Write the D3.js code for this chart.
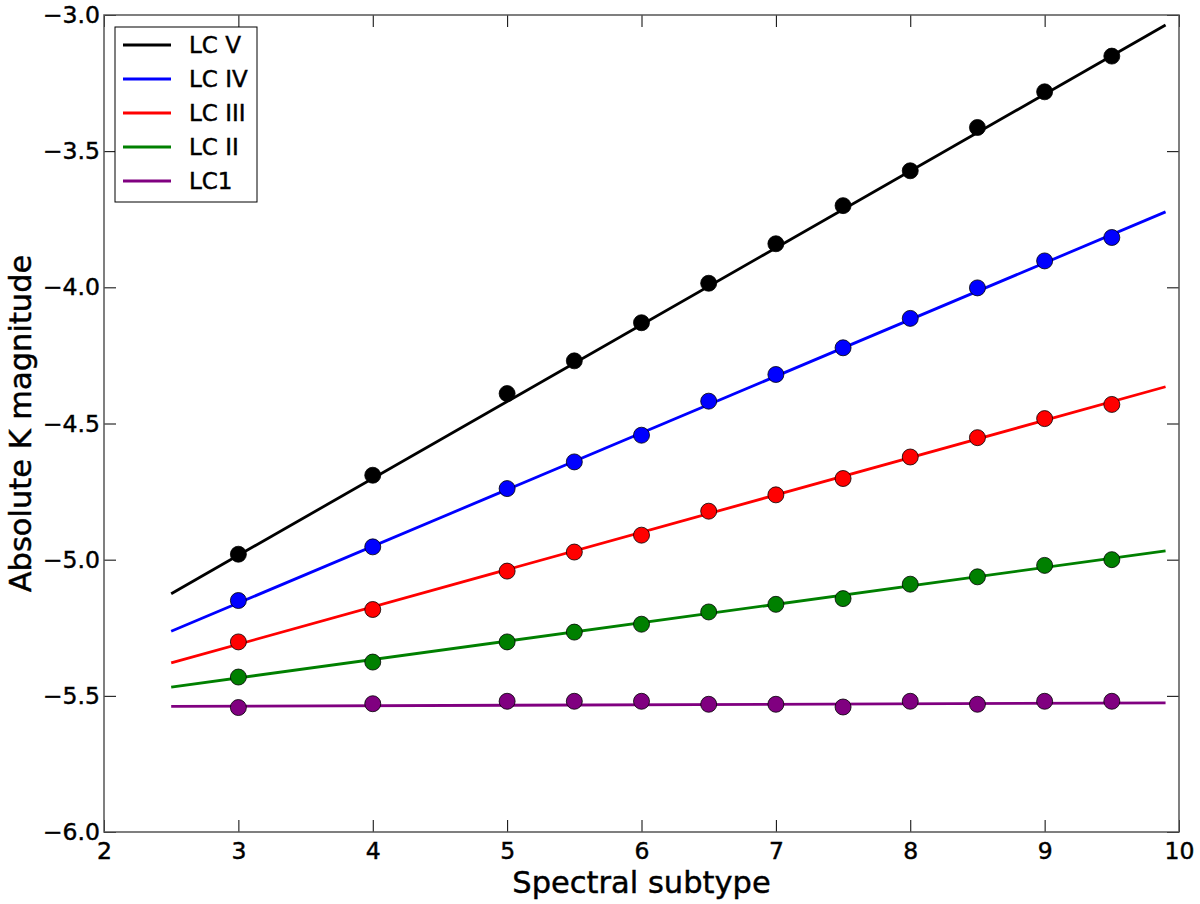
<!DOCTYPE html>
<html>
<head>
<meta charset="utf-8">
<script src="https://cdn.jsdelivr.net/npm/d3@7"></script>
<style>
  body { margin: 0; background: #fff; }
  svg text { font-family: "DejaVu Sans", sans-serif; fill: #000; stroke: #000; stroke-width: 0.45px; }
</style>
</head>
<body>
<div id="chart"></div>
<script>
// spectral subtypes of the measured points
const subtypes = [3, 4, 5, 5.5, 6, 6.5, 7, 7.5, 8, 8.5, 9, 9.5];

// absolute K magnitude per luminosity class
const lcV   = [-4.98, -4.69, -4.39, -4.27, -4.13, -3.985, -3.84, -3.70, -3.572, -3.413, -3.282, -3.151];
const lcIV  = [-5.15, -4.953, -4.739, -4.641, -4.543, -4.418, -4.32, -4.222, -4.114, -4.002, -3.903, -3.817];
const lcIII = [-5.302, -5.183, -5.042, -4.972, -4.91, -4.822, -4.762, -4.702, -4.623, -4.552, -4.482, -4.43];
const lcII  = [-5.431, -5.376, -5.302, -5.266, -5.237, -5.192, -5.164, -5.143, -5.09, -5.063, -5.021, -5.0];
const lcI   = [-5.543, -5.529, -5.52, -5.52, -5.52, -5.531, -5.531, -5.541, -5.52, -5.531, -5.52, -5.52];

// linear fits drawn from fitX[0] to fitX[1]
const fitX = [2.5, 9.9];
const fitV   = [-5.125, -3.037];
const fitIV  = [-5.263, -3.723];
const fitIII = [-5.379, -4.365];
const fitII  = [-5.468, -4.968];
const fitI   = [-5.539, -5.526];

const seriesNames = ["LC V", "LC IV", "LC III", "LC II", "LC1"];
const seriesColors = ["#000000", "#0000ff", "#ff0000", "#008000", "#800080"];

const xTicks = [2, 3, 4, 5, 6, 7, 8, 9, 10];
const yTicks = [-3.0, -3.5, -4.0, -4.5, -5.0, -5.5, -6.0];

const series = [
  {name: seriesNames[0], color: seriesColors[0], pts: lcV,   fit: fitV},
  {name: seriesNames[1], color: seriesColors[1], pts: lcIV,  fit: fitIV},
  {name: seriesNames[2], color: seriesColors[2], pts: lcIII, fit: fitIII},
  {name: seriesNames[3], color: seriesColors[3], pts: lcII,  fit: fitII},
  {name: seriesNames[4], color: seriesColors[4], pts: lcI,   fit: fitI}
];

const W = 1200, H = 904;
const margin = {top: 15, right: 21, bottom: 72, left: 104};
const width = W - margin.left - margin.right;
const height = H - margin.top - margin.bottom;

const svg = d3.select("#chart").append("svg")
  .attr("width", W)
  .attr("height", H);

const g = svg.append("g")
  .attr("transform", `translate(${margin.left},${margin.top})`);

const x = d3.scaleLinear().domain([2, 10]).range([0, width]);
const y = d3.scaleLinear().domain([-6, -3]).range([height, 0]);

const fmtY = d => d3.format(".1f")(d).replace("-", "\u2212");

// axes, ticks pointing inward on every side
const axisStyle = sel => {
  sel.select(".domain").remove();
  sel.selectAll(".tick line").attr("stroke", "#000").attr("stroke-width", 1);
};

g.append("g")
  .attr("transform", `translate(0,${height})`)
  .call(d3.axisBottom(x).tickValues(xTicks).tickSizeInner(-12).tickSizeOuter(0).tickPadding(10).tickFormat(d3.format("d")))
  .call(axisStyle)
  .selectAll("text").style("font-size", "23.5px");

g.append("g")
  .call(d3.axisTop(x).tickValues(xTicks).tickSizeInner(-12).tickSizeOuter(0).tickFormat(""))
  .call(axisStyle);

g.append("g")
  .call(d3.axisLeft(y).tickValues(yTicks).tickSizeInner(-12).tickSizeOuter(0).tickPadding(4).tickFormat(fmtY))
  .call(axisStyle)
  .selectAll("text").style("font-size", "23.5px");

g.append("g")
  .attr("transform", `translate(${width},0)`)
  .call(d3.axisRight(y).tickValues(yTicks).tickSizeInner(-12).tickSizeOuter(0).tickFormat(""))
  .call(axisStyle);

// frame
g.append("rect")
  .attr("width", width)
  .attr("height", height)
  .attr("fill", "none")
  .attr("stroke", "#555")
  .attr("stroke-width", 1.5);

// fit lines
const line = d3.line().x(d => x(d[0])).y(d => y(d[1]));
g.selectAll(".fit")
  .data(series)
  .enter()
  .append("path")
  .attr("class", "fit")
  .attr("fill", "none")
  .attr("stroke", d => d.color)
  .attr("stroke-width", 2.8)
  .attr("d", d => line(fitX.map((xv, i) => [xv, d.fit[i]])));

// points
series.forEach(s => {
  g.selectAll(null)
    .data(subtypes.map((xv, i) => [xv, s.pts[i]]))
    .enter()
    .append("circle")
    .attr("cx", d => x(d[0]))
    .attr("cy", d => y(d[1]))
    .attr("r", 8)
    .attr("fill", s.color)
    .attr("stroke", "#000")
    .attr("stroke-width", 0.8);
});

// legend
const legend = svg.append("g").attr("transform", "translate(115,27)");
legend.append("rect")
  .attr("width", 142)
  .attr("height", 175)
  .attr("fill", "#fff")
  .attr("stroke", "#000")
  .attr("stroke-width", 1);

const rows = legend.selectAll(".row")
  .data(series)
  .enter()
  .append("g")
  .attr("transform", (d, i) => `translate(0,${18 + i * 34})`);
rows.append("line")
  .attr("x1", 8).attr("x2", 56)
  .attr("stroke", d => d.color)
  .attr("stroke-width", 2.8);
rows.append("text")
  .attr("x", 74)
  .attr("dy", "0.36em")
  .style("font-size", "23px")
  .text(d => d.name);

// axis titles
svg.append("text")
  .attr("x", margin.left + width / 2)
  .attr("y", 893)
  .attr("text-anchor", "middle")
  .style("font-size", "30.5px")
  .text("Spectral subtype");

svg.append("text")
  .attr("transform", `translate(31,${margin.top + height / 2}) rotate(-90)`)
  .attr("text-anchor", "middle")
  .style("font-size", "30.5px")
  .text("Absolute K magnitude");
</script>
</body>
</html>
